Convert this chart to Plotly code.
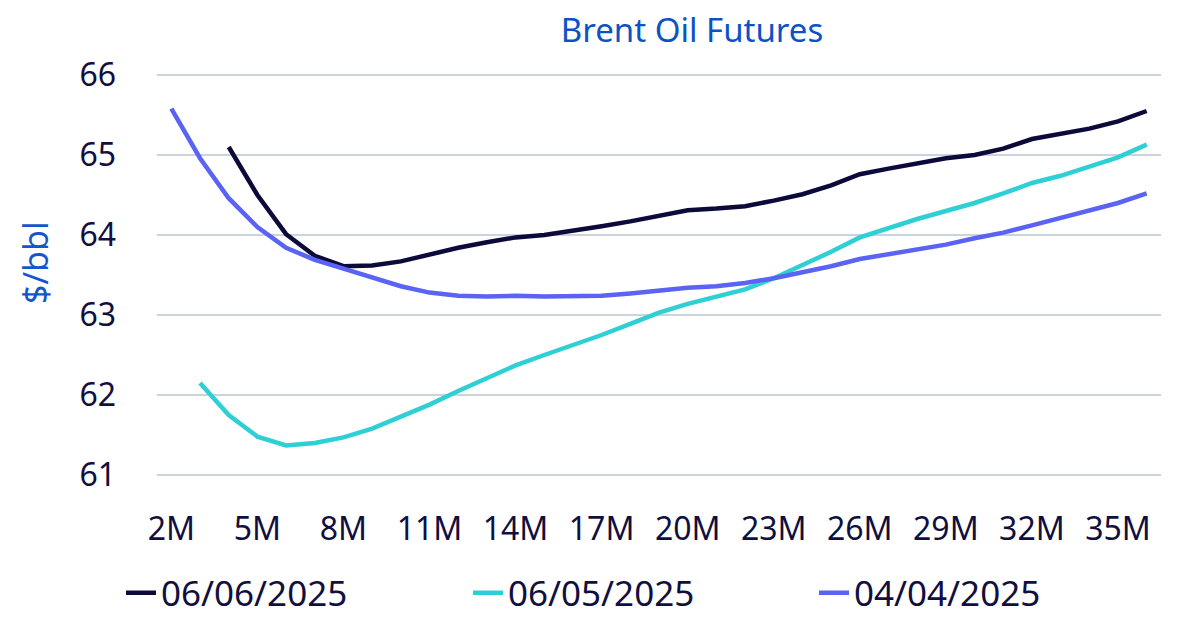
import plotly.graph_objects as go

months = [f"{m}M" for m in range(2, 37)]
tick_labels = ["2M", "5M", "8M", "11M", "14M", "17M", "20M", "23M", "26M", "29M", "32M", "35M"]

# 06/06/2025 curve starts at 4M
s_0606 = [None, None,
          65.10, 64.50, 64.01, 63.74, 63.61, 63.62, 63.67, 63.76, 63.84, 63.91,
          63.97, 64.00, 64.05, 64.11, 64.17, 64.24, 64.31, 64.33, 64.36, 64.43,
          64.51, 64.62, 64.76, 64.83, 64.90, 64.96, 65.00, 65.08, 65.20, 65.26,
          65.33, 65.42, 65.55]

# 06/05/2025 curve starts at 3M
s_0605 = [None,
          62.15, 61.75, 61.48, 61.37, 61.40, 61.47, 61.58, 61.73, 61.88, 62.05,
          62.21, 62.37, 62.50, 62.62, 62.75, 62.89, 63.03, 63.14, 63.23, 63.32,
          63.46, 63.62, 63.79, 63.97, 64.09, 64.20, 64.30, 64.40, 64.52, 64.65,
          64.74, 64.85, 64.97, 65.13]

# 04/04/2025 curve starts at 2M
s_0404 = [65.58, 64.96, 64.46, 64.10, 63.84, 63.69, 63.58, 63.47, 63.36, 63.28,
          63.24, 63.23, 63.24, 63.23, 63.23, 63.24, 63.27, 63.31, 63.34, 63.36,
          63.40, 63.46, 63.53, 63.61, 63.70, 63.76, 63.82, 63.88, 63.96, 64.03,
          64.12, 64.21, 64.30, 64.40, 64.52]

series = [
    ("06/06/2025", s_0606, "#0c0a3a"),
    ("06/05/2025", s_0605, "#2fcfd6"),
    ("04/04/2025", s_0404, "#5a63f3"),
]
legend_ids = ["legend", "legend2", "legend3"]
legend_x_px = [121, 468, 814]

FONT = "Noto Sans"
fig = go.Figure()
for (name, vals, color), lid in zip(series, legend_ids):
    fig.add_trace(go.Scatter(
        x=months, y=vals, name=name, mode="lines",
        line=dict(color=color, width=4.5), connectgaps=False, legend=lid,
    ))

legend_style = {}
for lid, xp in zip(legend_ids, legend_x_px):
    legend_style[lid] = dict(
        orientation="h", xref="container", yref="container",
        x=xp / 1200, xanchor="left", y=1 - 593 / 623, yanchor="middle",
        font=dict(family=FONT, size=35, color="#110f40"),
        itemwidth=30, bgcolor="rgba(0,0,0,0)",
    )

fig.update_layout(
    width=1200, height=623,
    margin=dict(l=157, r=39, t=51, b=116, autoexpand=False),
    paper_bgcolor="white", plot_bgcolor="white",
    font=dict(family=FONT, color="#110f40", size=32),
    title=dict(text="Brent Oil Futures", x=692 / 1200, xanchor="center",
               xref="container", yref="container",
               y=1 - 30 / 623, yanchor="middle",
               font=dict(family=FONT, size=33, color="#0b52c6")),
    showlegend=True,
    xaxis=dict(type="category", categoryorder="array", categoryarray=months,
               range=[-0.5, len(months) - 0.5], automargin=False,
               tickmode="array", tickvals=tick_labels, ticktext=tick_labels,
               showgrid=False, zeroline=False, showline=False, ticks="",
               tickfont=dict(size=32, color="#110f40")),
    yaxis=dict(range=[60.6, 66.3], tickmode="linear", tick0=61, dtick=1,
               automargin=False,
               showgrid=True, gridcolor="#c9d4df", gridwidth=2, zeroline=False,
               showline=False, ticks="", ticklabelstandoff=40,
               tickfont=dict(size=32, color="#110f40")),
    **legend_style,
)

fig.add_annotation(text="$/bbl", xref="paper", yref="paper",
                   x=-122 / 1004, y=(507 - 263) / 456, textangle=-90, showarrow=False,
                   xanchor="center", yanchor="middle",
                   font=dict(family=FONT, size=34, color="#1556cc"))

fig.write_html("out.html")
